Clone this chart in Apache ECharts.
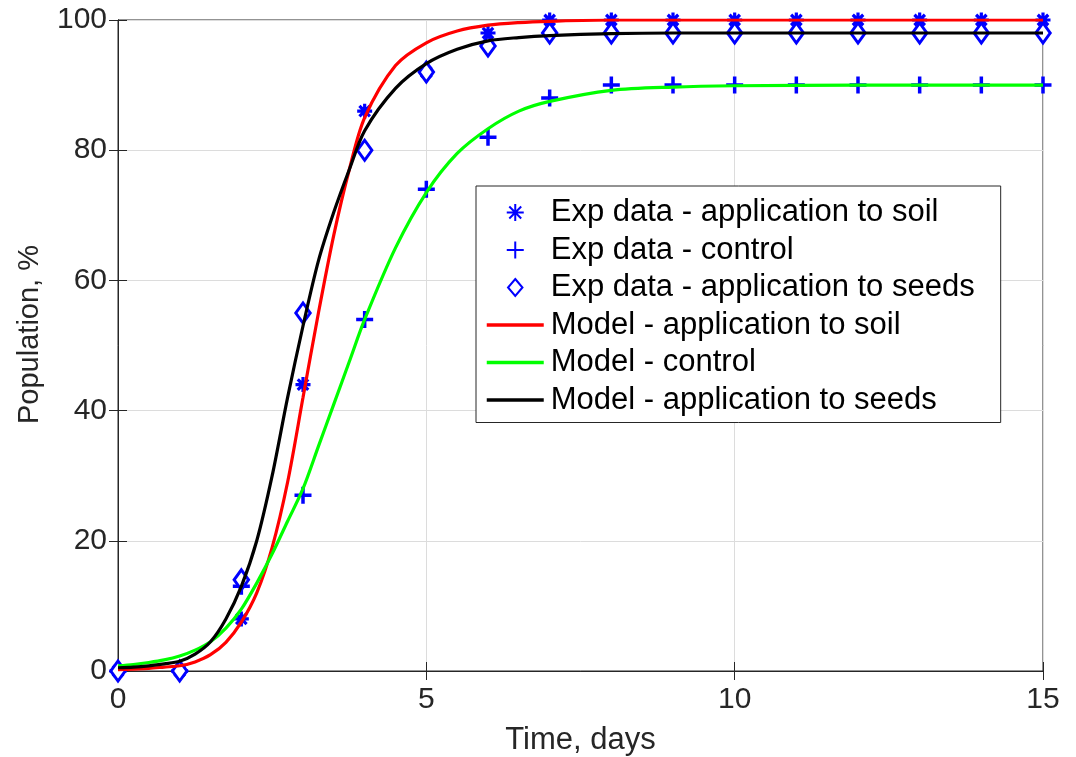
<!DOCTYPE html>
<html>
<head>
<meta charset="UTF-8">
<script src="https://cdn.jsdelivr.net/npm/echarts@6/dist/echarts.min.js"></script>
<style>
html, body { margin: 0; padding: 0; background: #fff; }
#main { width: 1076px; height: 757px; }
</style>
</head>
<body>
<div id="main"></div>
<script>
// experimental days
var days = [0, 1, 2, 3, 4, 5, 6, 7, 8, 9, 10, 11, 12, 13, 14, 15];
var soilExp = [0, 0, 8, 44, 86, 92, 98, 100, 100, 100, 100, 100, 100, 100, 100, 100];
var controlExp = [0, 0, 13, 27, 54, 74, 82, 88, 90, 90, 90, 90, 90, 90, 90, 90];
var seedsExp = [0, 0, 14, 55, 80, 92, 96, 98, 98, 98, 98, 98, 98, 98, 98, 98];

// model curves
var modelT = [0, 0.25, 0.5, 0.75, 1, 1.25, 1.5, 1.75, 2, 2.25, 2.5, 2.75, 3, 3.25, 3.5, 3.75, 4,
    4.5, 5, 5.5, 6, 6.5, 7, 8, 9, 10, 12, 15];
var soilModel = [0.2, 0.3, 0.4, 0.6, 0.8, 1.4, 2.5, 4.4, 7.5, 12, 19, 29, 42, 55, 67, 77, 85,
    93, 96.5, 98.3, 99.2, 99.6, 99.8, 100, 100, 100, 100, 100];
var controlModel = [0.8, 1.0, 1.3, 1.7, 2.3, 3.2, 4.5, 6.6, 9.5, 13.5, 18, 23, 28, 34.5, 41, 47.5, 54,
    65, 73.5, 79.5, 83.3, 86, 87.5, 89.2, 89.7, 89.9, 90, 90];
var seedsModel = [0.5, 0.6, 0.8, 1.1, 1.5, 2.6, 4.5, 8, 13, 20, 30, 42, 53, 63, 70.5, 77, 83,
    89.5, 93.3, 95.5, 96.8, 97.3, 97.6, 97.9, 98, 98, 98, 98];

var names = [
    'Exp data - application to soil',
    'Exp data - control',
    'Exp data - application to seeds',
    'Model - application to soil',
    'Model - control',
    'Model - application to seeds'
];

function pairs(xs, ys) {
    return xs.map(function (x, i) { return [x, ys[i]]; });
}

var blue = '#0000ff';
var axisColor = '#262626';
var font = 'Liberation Sans, Arial, sans-serif';

var starPath = 'path://M0,-10L0,10M-10,0L10,0M-7,-7L7,7M-7,7L7,-7';
var plusPath = 'path://M0,-10L0,10M-10,0L10,0';
var diamondPath = 'path://M0,-10L8.5,0L0,10L-8.5,0Z';

function expSeries(name, data, symbol, size, fill, bw) {
    return {
        name: name,
        type: 'scatter',
        xAxisIndex: 0,
        yAxisIndex: 0,
        data: pairs(days, data),
        symbol: symbol,
        symbolSize: size,
        symbolKeepAspect: true,
        itemStyle: { color: fill, borderColor: blue, borderWidth: bw, opacity: 1 },
        emphasis: { disabled: true }
    };
}

function modelSeries(name, data, color) {
    return {
        name: name,
        type: 'line',
        xAxisIndex: 0,
        yAxisIndex: 0,
        data: pairs(modelT, data),
        symbol: 'none',
        smooth: 0.3,
        lineStyle: { color: color, width: 3.2 },
        itemStyle: { color: color },
        emphasis: { disabled: true }
    };
}

function lineLegend(name) {
    return {
        name: name,
        itemStyle: { color: 'rgba(0,0,0,0)', borderWidth: 0, opacity: 0 },
        lineStyle: { width: 3.5 }
    };
}

var chart = echarts.init(document.getElementById('main'));
chart.setOption({
    animation: false,
    backgroundColor: '#fff',
    grid: {
        left: 118, top: 20, right: 33, bottom: 86,
        outerBoundsMode: 'none',
        show: true, borderColor: axisColor, borderWidth: 1
    },
    legend: {
        data: [names[0], names[1], names[2], lineLegend(names[3]), lineLegend(names[4]), lineLegend(names[5])],
        orient: 'vertical',
        left: 476,
        top: 186,
        backgroundColor: '#fff',
        borderColor: axisColor,
        borderWidth: 1,
        padding: [11, 26, 7, 9],
        itemWidth: 57,
        itemHeight: 17,
        itemGap: 6.5,
        symbolKeepAspect: true,
        textStyle: { fontFamily: font, fontSize: 31, color: '#000', padding: [0, 0, 0, 2] }
    },
    xAxis: [{
        type: 'value', min: 0, max: 15, interval: 5,
        name: 'Time, days', nameLocation: 'middle', nameGap: 54,
        nameTextStyle: { fontFamily: font, fontSize: 31, color: axisColor },
        axisLine: { lineStyle: { color: axisColor } },
        axisTick: { inside: true, length: 9, lineStyle: { color: axisColor } },
        axisLabel: { fontFamily: font, fontSize: 30, color: axisColor, margin: 14 },
        splitLine: { lineStyle: { color: '#dcdcdc' } }
    }, {
        type: 'value', min: 0, max: 15, interval: 5, position: 'top',
        axisLine: { lineStyle: { color: axisColor } },
        axisTick: { inside: true, length: 9, lineStyle: { color: axisColor } },
        axisLabel: { show: false },
        splitLine: { show: false }
    }],
    yAxis: [{
        type: 'value', min: 0, max: 100, interval: 20,
        name: 'Population, %', nameLocation: 'middle', nameGap: 74,
        nameTextStyle: { fontFamily: font, fontSize: 29, color: axisColor, padding: [0, 0, 0, 22] },
        axisLine: { show: true, lineStyle: { color: axisColor } },
        axisTick: { show: true, inside: true, length: 9, lineStyle: { color: axisColor } },
        axisLabel: { fontFamily: font, fontSize: 30, color: axisColor, margin: 11 },
        splitLine: { lineStyle: { color: '#dcdcdc' } }
    }, {
        type: 'value', min: 0, max: 100, interval: 20, position: 'right',
        axisLine: { show: true, lineStyle: { color: axisColor } },
        axisTick: { show: true, inside: true, length: 9, lineStyle: { color: axisColor } },
        axisLabel: { show: false },
        splitLine: { show: false }
    }],
    series: [
        expSeries(names[0], soilExp, starPath, 15, 'rgba(0,0,0,0)', 3.2),
        expSeries(names[1], controlExp, plusPath, 17, 'rgba(0,0,0,0)', 3.5),
        expSeries(names[2], seedsExp, diamondPath, [17, 20], '#fff', 3),
        modelSeries(names[3], soilModel, '#ff0000'),
        modelSeries(names[4], controlModel, '#00ff00'),
        modelSeries(names[5], seedsModel, '#000000')
    ]
});
</script>
</body>
</html>
